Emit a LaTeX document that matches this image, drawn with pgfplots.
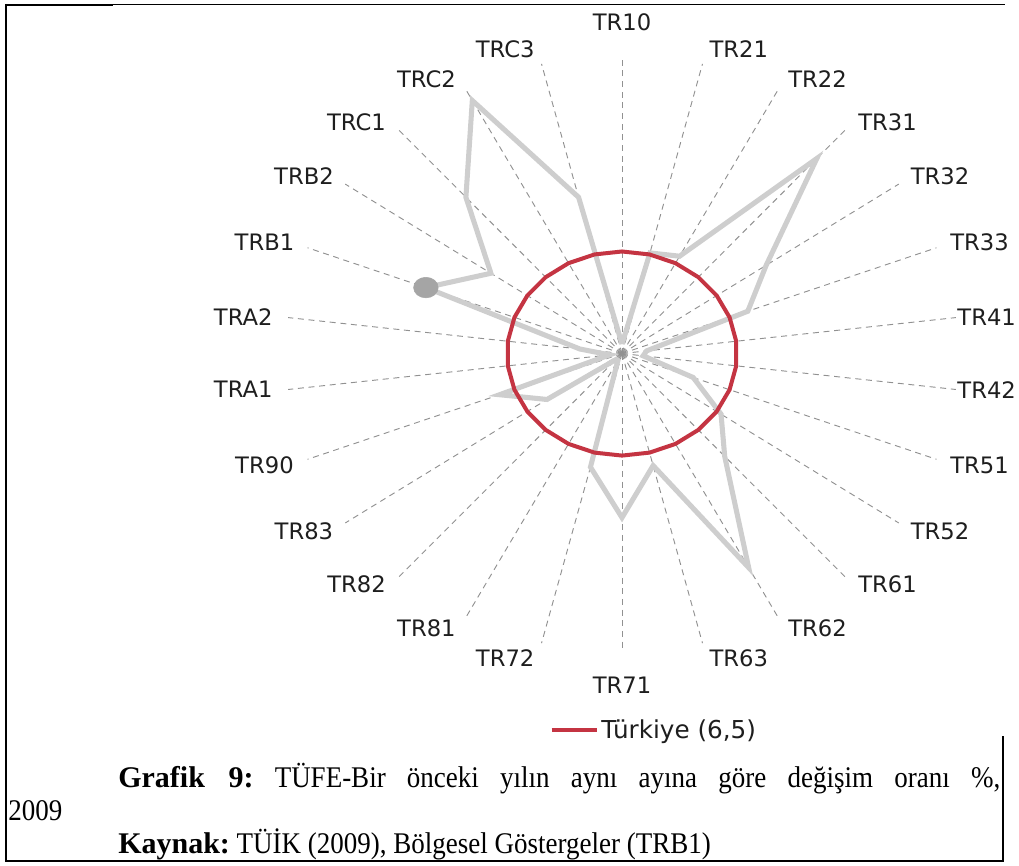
\documentclass[border=0pt]{standalone}
\usepackage{fontspec}
\setmainfont{Liberation Serif}[FakeStretch=0.9, BoldFeatures={FakeStretch=1.0}]
\newfontfamily\lblfont{DejaVu Sans}
\usepackage{pgfplots}
\usepackage{pgfplotstable}
\pgfplotsset{compat=1.18}
\definecolor{linegray}{RGB}{206,206,206}
\definecolor{dotgray}{RGB}{165,165,165}
\definecolor{spokegray}{RGB}{145,145,145}
\definecolor{turred}{RGB}{196,52,66}
\definecolor{lbl}{RGB}{30,30,30}

% angle (deg, TR10 at top, clockwise) and value
\pgfplotstableread{
angle value
90 0.6
76.1538 6.6
62.3077 7.0
48.4615 16.6
34.6154 9.9
20.7692 7.6
6.9231 1.4
-6.9231 1.2
-20.7692 4.3
-34.6154 6.8
-48.4615 8.75
-62.3077 15.4
-76.1538 7.35
-90 10.45
-103.8462 7.45
-117.6923 0.5
-131.5385 0.5
-145.3846 5.15
-159.2308 7.4
-173.0769 0.7
-186.9231 2.4
-200.7692 11.85
-214.6154 9.0
-228.4615 13.3
-242.3077 18.2
-256.1538 10.25
-270 0.6
}\regions

\pgfplotstableread{
angle value
90 6.5
76.1538 6.5
62.3077 6.5
48.4615 6.5
34.6154 6.5
20.7692 6.5
6.9231 6.5
-6.9231 6.5
-20.7692 6.5
-34.6154 6.5
-48.4615 6.5
-62.3077 6.5
-76.1538 6.5
-90 6.5
-103.8462 6.5
-117.6923 6.5
-131.5385 6.5
-145.3846 6.5
-159.2308 6.5
-173.0769 6.5
-186.9231 6.5
-200.7692 6.5
-214.6154 6.5
-228.4615 6.5
-242.3077 6.5
-256.1538 6.5
-270 6.5
}\turkiye

\begin{document}
\begin{tikzpicture}
\useasboundingbox (0,0) rectangle (764.25pt,648.75pt);
\begin{axis}[
  at={(466.5pt,383.6pt)}, anchor=origin,
  x=13.275pt, y=11.775pt,
  xmin=-23, xmax=23, ymin=-23, ymax=23,
  hide axis, clip=false,
  legend style={at={(axis cs:-4.1,-23.98)}, anchor=west, draw=none, fill=none,
    inner sep=0pt, font=\lblfont\fontsize{18.5}{21}\selectfont, text=lbl,
    legend cell align=left},
  legend image code/.code={\draw[#1] (0pt,0pt) -- (33.75pt,0pt);},
  spoke/.style={spokegray, line width=0.7pt, dash pattern=on 4.5pt off 3.5pt, forget plot},
]
\pgfplotsinvokeforeach{90,76.1538,62.3077,48.4615,34.6154,20.7692,6.9231,-6.9231,-20.7692,-34.6154,-48.4615,-62.3077,-76.1538,-90,-103.8462,-117.6923,-131.5385,-145.3846,-159.2308,-173.0769,-186.9231,-200.7692,-214.6154,-228.4615,-242.3077,-256.1538}{
  \addplot[spoke, data cs=polar] coordinates {(#1,0) (#1,19)};
}
\addplot[linegray, line width=3.8pt, data cs=polar, forget plot] table[x=angle,y=value] {\regions};
\addplot[only marks, mark=*, mark size=7.7pt, color=dotgray, mark options={xscale=1.2, fill=dotgray, draw=dotgray}, data cs=polar, forget plot] coordinates {(-200.7692,11.85)};
\addplot[turred, line width=3pt, data cs=polar] table[x=angle,y=value] {\turkiye};
\addlegendentry{Türkiye (6,5)}

\begin{scope}[every node/.style={font=\lblfont\fontsize{17}{20}\selectfont, text=lbl, inner sep=0pt}]
\node at (axis cs:0,21.1) {TR10};
\node at (axis cs:6.6,19.4) {TR21};
\node at (axis cs:11.05,17.5) {TR22};
\node at (axis cs:15.0,14.7) {TR31};
\node at (axis cs:17.97,11.3) {TR32};
\node at (axis cs:20.2,7.1) {TR33};
\node at (axis cs:20.6,2.3) {TR41};
\node at (axis cs:20.6,-2.3) {TR42};
\node at (axis cs:20.2,-7.1) {TR51};
\node at (axis cs:17.97,-11.3) {TR52};
\node at (axis cs:15.0,-14.7) {TR61};
\node at (axis cs:11.05,-17.5) {TR62};
\node at (axis cs:6.6,-19.4) {TR63};
\node at (axis cs:0,-21.1) {TR71};
\node at (axis cs:-6.6,-19.4) {TR72};
\node at (axis cs:-11.05,-17.5) {TR81};
\node at (axis cs:-15.0,-14.7) {TR82};
\node at (axis cs:-17.97,-11.3) {TR83};
\node at (axis cs:-20.2,-7.1) {TR90};
\node at (axis cs:-21.4,-2.3) {TRA1};
\node at (axis cs:-21.4,2.3) {TRA2};
\node at (axis cs:-20.2,7.1) {TRB1};
\node at (axis cs:-17.97,11.3) {TRB2};
\node at (axis cs:-15.0,14.7) {TRC1};
\node at (axis cs:-11.05,17.5) {TRC2};
\node at (axis cs:-6.6,19.4) {TRC3};
\end{scope}
\end{axis}

% frame
\draw[line width=1.5pt] (4.5pt,645.75pt) -- (4.5pt,2.25pt);
\draw[line width=1.9pt] (3.75pt,645pt) -- (84.75pt,645pt);
\draw[line width=1.1pt] (84.75pt,645.5pt) -- (753.75pt,645.5pt);
\draw[line width=1.5pt] (3.75pt,3pt) -- (753pt,3pt);
\draw[line width=1.5pt] (752.25pt,96.75pt) -- (752.25pt,3pt);

% caption
\node[anchor=base west, inner sep=0pt] at (6pt,58.5pt) {\parbox[t]{744pt}{\fontsize{22.5}{24.75}\selectfont\frenchspacing
\noindent\hspace*{82.5pt}\textbf{Grafik 9:} TÜFE-Bir önceki yılın aynı ayına göre değişim oranı \%,\linebreak 2009\par
\noindent\hspace*{82.5pt}\textbf{Kaynak:} TÜİK (2009), Bölgesel Göstergeler (TRB1)\par}};
\end{tikzpicture}
\end{document}
